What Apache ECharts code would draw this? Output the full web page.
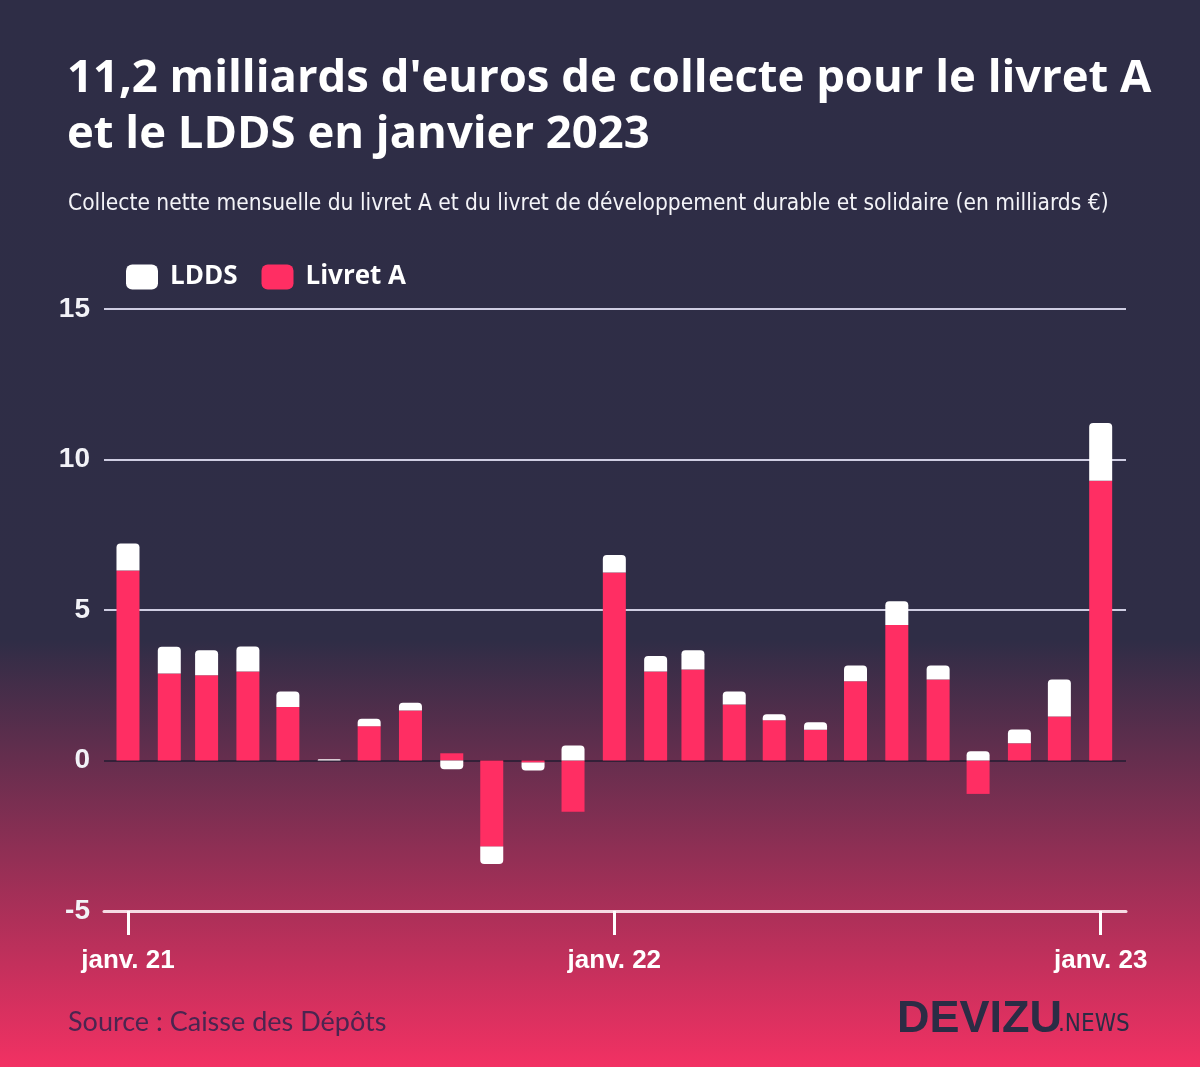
<!DOCTYPE html>
<html>
<head>
<meta charset="utf-8">
<script src="https://cdn.jsdelivr.net/npm/echarts@6/dist/echarts.min.js"></script>
<style>
  html, body { margin: 0; padding: 0; }
  body {
    width: 1200px; height: 1067px; overflow: hidden;
    background: linear-gradient(to bottom, #2e2d46 0%, #2f2d46 60%, #f23163 100%);
  }
  #chart { width: 1200px; height: 1067px; }
</style>
</head>
<body>
<div id="chart"></div>
<script>
// ---- data ----
const months = ['2021-01','2021-02','2021-03','2021-04','2021-05','2021-06','2021-07','2021-08','2021-09','2021-10','2021-11','2021-12',
                '2022-01','2022-02','2022-03','2022-04','2022-05','2022-06','2022-07','2022-08','2022-09','2022-10','2022-11','2022-12',
                '2023-01'];
const livretA = [6.31, 2.89, 2.83, 2.96, 1.78, 0.00, 1.14, 1.66, 0.24, -2.86, -0.07, -1.70,
                 6.25, 2.96, 3.02, 1.86, 1.34, 1.02, 2.63, 4.50, 2.69, -1.11, 0.57, 1.46,
                 9.29];
const ldds    = [0.90, 0.89, 0.83, 0.83, 0.51, 0.04, 0.25, 0.26, -0.29, -0.58, -0.26, 0.50,
                 0.58, 0.51, 0.64, 0.43, 0.20, 0.25, 0.53, 0.79, 0.47, 0.31, 0.46, 1.23,
                 1.92];
const xTickDates = ['2021-01', '2022-01', '2023-01'];
const xTickLabels = ['janv. 21', 'janv. 22', 'janv. 23'];

// ---- helpers: x position = days since 2021-01-01 ----
const DAY = 86400000;
const ORIGIN = Date.UTC(2021, 0, 1);
function toDay(s) { const p = s.split('-'); return Math.round((Date.UTC(+p[0], +p[1] - 1, 1) - ORIGIN) / DAY); }
const xMin = toDay('2021-01') - 18;
const xMax = toDay('2023-01') + 19;
const tickDays = xTickDates.map(toDay);

const chart = echarts.init(document.getElementById('chart'), null, { renderer: 'canvas' });

const option = {
  backgroundColor: 'transparent',
  animation: false,
  title: [
    {
      text: "11,2 milliards d'euros de collecte pour le livret A\net le LDDS en janvier 2023",
      left: 67, top: 51, padding: 0,
      textStyle: { color: '#ffffff', fontFamily: "'Open Sans'", fontWeight: 'bold', fontSize: 45.4, lineHeight: 56 }
    },
    {
      text: 'Collecte nette mensuelle du livret A et du livret de développement durable et solidaire (en milliards €)',
      left: 68, top: 193, padding: 0,
      textStyle: { color: '#f4f4f8', fontFamily: "'DejaVu Sans Condensed', sans-serif", fontWeight: 'normal', fontSize: 22.55 }
    },
    {
      text: 'Source : Caisse des Dépôts',
      left: 68, top: 1009, padding: 0,
      textStyle: { color: '#4b2550', fontFamily: 'Lato', fontWeight: 'normal', fontSize: 27 }
    }
  ],
  legend: {
    data: ['LDDS', 'Livret A'],
    left: 126, top: 264, padding: 0,
    icon: 'roundRect',
    itemWidth: 32, itemHeight: 25, itemGap: 24,
    textStyle: { color: '#ffffff', fontFamily: "'Open Sans'", fontWeight: 'bold', fontSize: 26, padding: [0, 0, 0, 7] }
  },
  grid: { left: 104, right: 74, top: 309, bottom: 156, containLabel: false },
  xAxis: {
    type: 'value',
    min: xMin, max: xMax,
    axisLine: { onZero: false, lineStyle: { color: '#f6dbe4', width: 3 } },
    axisTick: { show: true, length: 24, lineStyle: { color: '#ffffff', width: 3 }, customValues: tickDays },
    axisLabel: {
      customValues: tickDays,
      margin: 37,
      color: '#ffffff', fontFamily: "'Liberation Sans', Arial, sans-serif", fontWeight: 'bold', fontSize: 26,
      formatter: function (v) {
        const i = tickDays.indexOf(Math.round(v));
        return i >= 0 ? xTickLabels[i] : '';
      }
    },
    splitLine: { show: false }
  },
  yAxis: {
    type: 'value',
    min: -5, max: 15, interval: 5,
    axisLine: { show: false },
    axisTick: { show: false },
    axisLabel: {
      margin: 14,
      color: '#f2f2f7', fontFamily: "'Liberation Sans', Arial, sans-serif", fontWeight: 'bold', fontSize: 28
    },
    splitLine: {
      show: true,
      lineStyle: { color: ['rgba(0,0,0,0)', 'rgba(35,28,50,0.75)', '#cfcde2', '#cfcde2', '#cfcde2'], width: 2 }
    }
  },
  series: [
    {
      name: 'Livret A', type: 'bar', stack: 'total', barWidth: 23,
      encode: { x: 1, y: 0 },
      itemStyle: { color: '#ff2e63' },
      data: months.map((m, i) => [livretA[i], toDay(m)])
    },
    {
      name: 'LDDS', type: 'bar', stack: 'total', barWidth: 23,
      encode: { x: 1, y: 0 },
      itemStyle: { color: '#ffffff' },
      data: months.map((m, i) => ({
        value: [ldds[i], toDay(m)],
        itemStyle: { borderRadius: ldds[i] >= 0 ? [4, 4, 0, 0] : [0, 0, 4, 4] }
      }))
    }
  ],
  graphic: [
    {
      type: 'text', left: 897, top: 997,
      style: { text: 'DEVIZU', fill: '#2b2c45', font: "bold 45px 'Liberation Sans', Arial, sans-serif" }
    },
    {
      type: 'text', left: 1058, top: 1013,
      style: { text: '.NEWS', fill: '#2b2c45', font: "normal 24px 'DejaVu Sans Condensed', sans-serif" }
    }
  ]
};
chart.setOption(option);
</script>
</body>
</html>
